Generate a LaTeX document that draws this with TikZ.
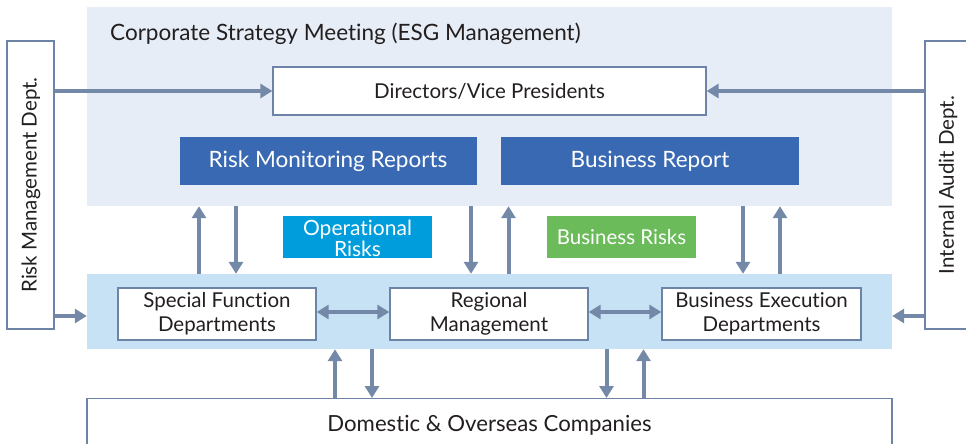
\documentclass[tikz,border=0pt]{standalone}
\usepackage{fontspec}
\setmainfont[Ligatures=NoCommon]{Lato}
\usetikzlibrary{arrows.meta}
\definecolor{toppanel}{HTML}{E6EDF6}
\definecolor{botpanel}{HTML}{C7E2F5}
\definecolor{darkblue}{HTML}{3A69B3}
\definecolor{cyanbox}{HTML}{009DDC}
\definecolor{greenbox}{HTML}{6BBB5B}
\definecolor{arrowcol}{HTML}{7489A8}
\definecolor{bordercol}{HTML}{6E84A6}
\definecolor{textcol}{HTML}{231F20}
\newcommand{\fs}{\fontsize{20.5}{24}\selectfont}
\newcommand{\fb}{\fontsize{22.5}{26}\selectfont}
\tikzset{
  panel/.style={draw=none,inner sep=0pt,minimum width=#1},
  whitebox/.style={draw=bordercol,line width=1.3pt,fill=white,inner sep=0pt,text=textcol,font=\fs,align=center},
  colbox/.style={fill=#1,draw=none,inner sep=0pt,text=white,font=\fs,align=center},
  arr/.style={draw=arrowcol,line width=4pt,-{Triangle[width=14pt,length=12pt]}},
  darr/.style={draw=arrowcol,line width=4pt,{Triangle[width=14pt,length=12pt]}-{Triangle[width=14pt,length=12pt]}},
}
\begin{document}
\begin{tikzpicture}[x=1pt,y=-1pt]
\useasboundingbox (0,0) rectangle (966,444);
% panels
\node[panel=805pt,fill=toppanel,minimum height=199pt] (tp) at (489.5,106.5) {};
\node[panel=805pt,fill=botpanel,minimum height=75pt] (bp) at (489.5,311.5) {};
\node[anchor=base west,text=textcol,font=\fb,inner sep=0pt] (title) at (110,41) {Corporate Strategy Meeting (ESG Management)};
% boxes
\node[whitebox,minimum width=433pt,minimum height=48pt] (dir) at (489.5,91) {Directors/Vice Presidents};
\node[colbox=darkblue,font=\fb,minimum width=297pt,minimum height=48pt] (rmr) at (328,161) {Risk Monitoring Reports};
\node[colbox=darkblue,font=\fb,minimum width=298pt,minimum height=48pt] (br) at (650,161) {Business Report};
\node[whitebox,minimum width=47pt,minimum height=288pt] (rmd) at (30.5,185) {};
\node[rotate=90,text=textcol,font=\fs,inner sep=0pt] (rmdt) at (31,185) {Risk Management Dept.};
\node[whitebox,minimum width=50pt,minimum height=288pt] (iad) at (950,185) {};
\node[rotate=90,text=textcol,font=\fs,inner sep=0pt] (iadt) at (948,185) {Internal Audit Dept.};
\node[whitebox,minimum width=198pt,minimum height=52pt] (sfd) at (217,314) {Special Function\\Departments};
\node[whitebox,minimum width=198pt,minimum height=52pt] (reg) at (489,314) {Regional\\Management};
\node[whitebox,minimum width=199pt,minimum height=52pt] (bed) at (761.5,314) {Business Execution\\Departments};
\node[colbox=cyanbox,minimum width=149pt,minimum height=42pt] (ops) at (357.5,237) {};
\node[text=white,font=\fontsize{21}{21}\selectfont,align=center,inner sep=0pt] (opst) at (357.5,238) {Operational\\Risks};
\node[colbox=greenbox,minimum width=149pt,minimum height=42pt] (bur) at (621.5,237) {Business Risks};
\node[whitebox,minimum width=805pt,minimum height=56pt,anchor=north] (dom) at (489.5,398) {};
\node[text=textcol,font=\fontsize{22.2}{26}\selectfont,inner sep=0pt] (domt) at (489.5,425) {Domestic \& Overseas Companies};
% coordinates for arrow columns
\coordinate (a1) at (199,0); \coordinate (a2) at (236,0);
\coordinate (a3) at (471,0); \coordinate (a4) at (508.5,0);
\coordinate (a5) at (743,0); \coordinate (a6) at (780,0);
\coordinate (b1) at (335,0); \coordinate (b2) at (372,0);
\coordinate (b3) at (606.5,0); \coordinate (b4) at (643.5,0);
\coordinate (ylow) at (0,316); \coordinate (ymid) at (0,312);
% horizontal arrows
\draw[arr] (rmd.east |- dir.west) -- (dir.west);
\draw[arr] (iad.west |- dir.east) -- (dir.east);
\draw[arr] (rmd.east |- ylow) -- (bp.west |- ylow);
\draw[arr] (iad.west |- ylow) -- (bp.east |- ylow);
\draw[darr] (sfd.east |- ymid) -- (reg.west |- ymid);
\draw[darr] (reg.east |- ymid) -- (bed.west |- ymid);
% vertical arrows between panels
\draw[arr] (bp.north -| a1) -- (tp.south -| a1);
\draw[arr] (tp.south -| a2) -- (bp.north -| a2);
\draw[arr] (tp.south -| a3) -- (bp.north -| a3);
\draw[arr] (bp.north -| a4) -- (tp.south -| a4);
\draw[arr] (tp.south -| a5) -- (bp.north -| a5);
\draw[arr] (bp.north -| a6) -- (tp.south -| a6);
% bottom arrows
\draw[arr] (dom.north -| b1) -- (bp.south -| b1);
\draw[arr] (bp.south -| b2) -- (dom.north -| b2);
\draw[arr] (bp.south -| b3) -- (dom.north -| b3);
\draw[arr] (dom.north -| b4) -- (bp.south -| b4);
\end{tikzpicture}
\end{document}
